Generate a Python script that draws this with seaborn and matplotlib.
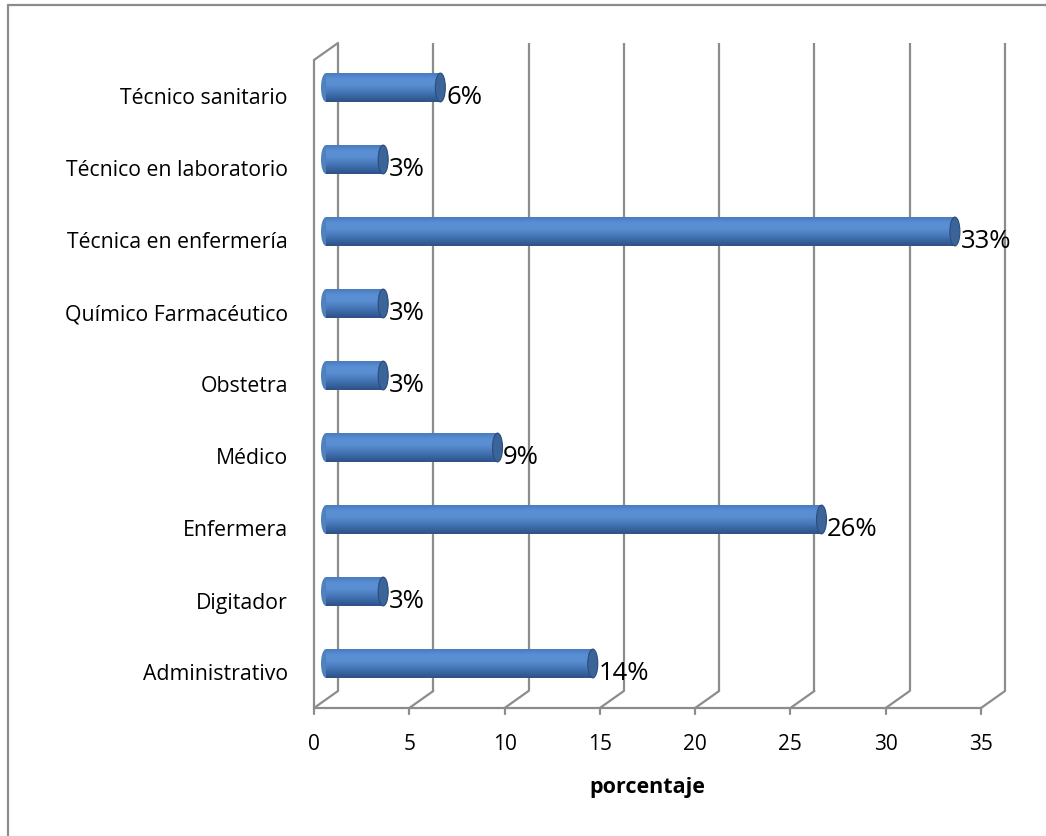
import numpy as np
import pandas as pd
import matplotlib
matplotlib.use("Agg")
import matplotlib.pyplot as plt
from matplotlib.patches import Ellipse, Polygon
from matplotlib.lines import Line2D
from matplotlib.colors import LinearSegmentedColormap
import seaborn as sns

# Distribution of staff by occupation (percent)
categories = ["Técnico sanitario", "Técnico en laboratorio", "Técnica en enfermería",
              "Químico Farmacéutico", "Obstetra", "Médico", "Enfermera",
              "Digitador", "Administrativo"]
percentages = [6, 3, 33, 3, 3, 9, 26, 3, 14]
value_labels = ["6%", "3%", "33%", "3%", "3%", "9%", "26%", "3%", "14%"]
x_ticks = [0, 5, 10, 15, 20, 25, 30, 35]
x_title = "porcentaje"

df = pd.DataFrame({"puesto": categories, "porcentaje": percentages})

sns.set_theme(style="white")
plt.rcParams["font.family"] = ["Open Sans", "DejaVu Sans"]

W, H = 1046, 836
fig = plt.figure(figsize=(W / 100, H / 100), dpi=100)
fig.patch.set_facecolor("white")

# plot area (mid-depth plane of the pseudo-3D box), in pixels
left_px, right_px = 326, 993
top_px, bottom_px = 51.5, 699.5
ax = fig.add_axes([left_px / W, 1 - bottom_px / H,
                   (right_px - left_px) / W, (bottom_px - top_px) / H])

bar_h = 0.4
sns.barplot(data=df, y="puesto", x="porcentaje", orient="h", order=categories,
            color="#4F81BD", width=bar_h, saturation=1, linewidth=0,
            ax=ax, zorder=3)

xmax = 35
ax.set_xlim(0, xmax)
ax.set_ylim(len(categories) - 0.5, -0.5)
ax.set_axis_off()

# conversion of pixel depth offsets into data units
px_x = (right_px - left_px) / xmax
px_y = (bottom_px - top_px) / len(categories)
dxd = 12 / px_x
dyd = 8.5 / px_y
grid_col = "#8C8C8C"
lw = 1.6
y_floor = len(categories) - 0.5
y_top = -0.5

# back wall verticals
for t in x_ticks:
    ax.plot([t + dxd, t + dxd], [y_floor - dyd, y_top - dyd], color=grid_col,
            lw=lw, clip_on=False, zorder=1, solid_capstyle="butt")
# front left wall edge and its top diagonal
ax.plot([-dxd, -dxd], [y_floor + dyd, y_top + dyd], color=grid_col, lw=lw,
        clip_on=False, zorder=1)
ax.plot([-dxd, dxd], [y_top + dyd, y_top - dyd], color=grid_col, lw=lw,
        clip_on=False, zorder=1)
# floor front edge, diagonals and tick marks
ax.plot([-dxd, xmax - dxd], [y_floor + dyd, y_floor + dyd], color=grid_col,
        lw=lw, clip_on=False, zorder=1)
for t in x_ticks:
    ax.plot([t - dxd, t + dxd], [y_floor + dyd, y_floor - dyd], color=grid_col,
            lw=lw, clip_on=False, zorder=1)
    ax.plot([t - dxd, t - dxd], [y_floor + dyd, y_floor + dyd + 6 / px_y],
            color=grid_col, lw=lw, clip_on=False, zorder=1)
    ax.text(t - dxd, y_floor + dyd + 36 / px_y, str(t), ha="center",
            va="center", fontsize=15, color="black")

ax.text(xmax / 2 - dxd, y_floor + (787 - bottom_px) / px_y, x_title,
        ha="center", va="center", fontsize=15.5, fontweight="bold", color="black")

# cylinder shading on each bar
grad = np.linspace(0, 1, 64).reshape(-1, 1)
cyl = LinearSegmentedColormap.from_list(
    "cyl", ["#4A7CBE", "#5B8FD4", "#5A8ED2", "#4B7DBF", "#3A67A3", "#2C5088"])
cap_edge = "#2B4C7E"
ew = 10 / px_x
theta = np.linspace(np.pi / 2, 3 * np.pi / 2, 40)

for i, (p, v) in enumerate(zip(ax.patches, percentages)):
    y0 = p.get_y()
    h = p.get_height()
    yc = y0 + h / 2
    w = p.get_width()
    # cylinder body: rounded left end joined to the bar rectangle
    arc_x = (ew / 2) * np.cos(theta)
    arc_y = yc - (h / 2) * np.sin(theta)
    verts = np.column_stack([np.r_[arc_x, w, w], np.r_[arc_y, y0 + h, y0]])
    body = Polygon(verts, closed=True, facecolor="#4F81BD", edgecolor="none",
                   zorder=3, clip_on=False)
    ax.add_patch(body)
    im = ax.imshow(grad, cmap=cyl, aspect="auto",
                   extent=(-ew, w, y0 + h, y0), zorder=3.5,
                   interpolation="bilinear")
    im.set_clip_path(body)
    # dark elliptical cap at the bar end
    cap = Ellipse((w, yc), ew, h, facecolor="#3B6498", edgecolor=cap_edge,
                  lw=0.8, zorder=4, clip_on=False)
    ax.add_patch(cap)
    ax.text(v + 0.3, i + dyd + 1 / px_y, value_labels[i], ha="left",
            va="center", fontsize=18.5, color="black", zorder=5)

# category labels on the front plane
for i, c in enumerate(categories):
    ax.text((288 - left_px) / px_x, i + dyd + 3 / px_y, c, ha="right",
            va="center", fontsize=15.3, color="black")

ax.set_xlim(0, xmax)
ax.set_ylim(len(categories) - 0.5, -0.5)

# chart frame (left and top edges)
fig.add_artist(Line2D([8 / W, 8 / W], [0, 1 - 5 / H], transform=fig.transFigure,
                      color="#8C8C8C", lw=1.6))
fig.add_artist(Line2D([8 / W, 1], [1 - 5 / H, 1 - 5 / H],
                      transform=fig.transFigure, color="#8C8C8C", lw=1.6))

fig.savefig("out.png", dpi=100, facecolor="white")
